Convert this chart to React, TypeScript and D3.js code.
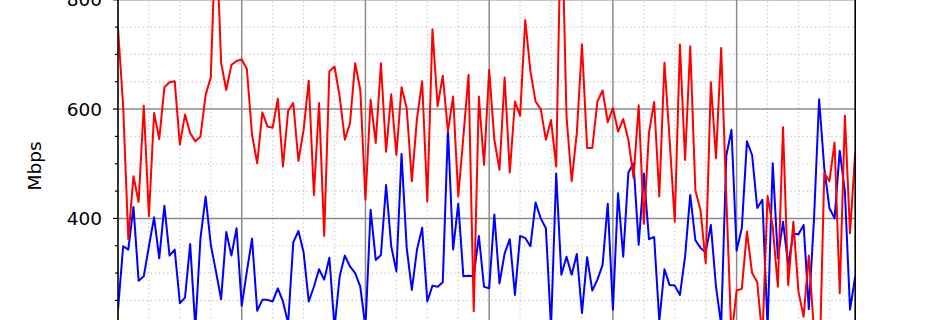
import React from "react";
import * as d3 from "d3";

// Hourly samples (index = hour), Mbps
const redSeries: number[] = [
  748, 605, 362, 477, 430, 606, 404, 593, 545, 640,
  649, 651, 535, 590, 556, 541, 550, 626, 658, 940,
  685, 635, 681, 688, 691, 673, 553, 501, 594, 568,
  566, 619, 495, 597, 611, 505, 562, 652, 443, 611,
  368, 669, 678, 623, 544, 574, 684, 635, 434, 617,
  538, 684, 522, 627, 516, 640, 602, 468, 583, 651,
  431, 746, 605, 661, 559, 623, 440, 550, 663, 230,
  623, 498, 672, 544, 489, 658, 484, 614, 588, 763,
  669, 614, 600, 544, 580, 495, 990, 587, 468, 556,
  718, 529, 529, 614, 634, 576, 602, 559, 582, 544,
  474, 607, 390, 557, 613, 440, 685, 544, 394, 718,
  507, 715, 451, 415, 318, 649, 510, 712, 438, 182,
  268, 271, 376, 300, 283, 180, 441, 385, 275, 567,
  278, 394, 266, 220, 332, 195, 100, 483, 468, 539,
  263, 588, 373, 521,
];

const blueSeries: number[] = [
  233, 349, 343, 421, 286, 294, 349, 402, 327, 423,
  332, 343, 245, 255, 353, 200, 364, 440, 352, 303,
  252, 375, 332, 382, 240, 303, 363, 231, 251, 251,
  248, 272, 248, 208, 356, 377, 338, 248, 275, 307,
  288, 328, 200, 294, 332, 312, 300, 275, 200, 416,
  324, 333, 461, 349, 303, 518, 346, 269, 343, 383,
  248, 277, 275, 283, 563, 343, 427, 294, 295, 294,
  368, 275, 272, 407, 281, 336, 362, 260, 368, 364,
  349, 429, 400, 382, 200, 482, 297, 330, 297, 335,
  227, 329, 268, 288, 315, 427, 233, 446, 330, 484,
  501, 352, 482, 362, 366, 212, 307, 278, 277, 260,
  330, 443, 360, 346, 338, 388, 275, 205, 515, 562,
  341, 382, 541, 516, 419, 434, 200, 501, 327, 394,
  315, 372, 371, 388, 234, 397, 618, 492, 419, 400,
  524, 449, 233, 294,
];

const yGridValues: number[] = [200, 400, 600, 800, 1000];
const yTickLabels: number[] = [400, 600, 800];
const yLabel = "Mbps";

const W = 950;
const H = 320;

export default function App() {
  const n = redSeries.length;
  const x = d3.scaleLinear().domain([0, n - 1]).range([118, 855.2]);
  const y = d3.scaleLinear().domain([0, 1000]).range([437.0, -109.5]);

  const x0 = x.range()[0];
  const x1 = x.range()[1];
  const yTop = y(1000);
  const yBot = y(0);

  const majorX = d3.range(0, n, 24).filter((v) => v > 0);
  const minorX = d3.range(0, n, 6).filter((v) => v % 24 !== 0);
  const majorY = yGridValues;
  const minorY = d3.range(0, 1001, 50).filter((v) => v % 200 !== 0);

  const line = d3
    .line<number>()
    .x((_, i) => x(i))
    .y((d) => y(d));

  const font = "'DejaVu Sans', sans-serif";

  return (
    <svg
      width={W}
      height={H}
      style={{ position: "absolute", left: 0, top: 0, background: "#fff" }}
    >
      <defs>
        <clipPath id="plot">
          <rect x={x0} y={yTop} width={x1 - x0} height={yBot - yTop} />
        </clipPath>
      </defs>
      <rect x={0} y={0} width={W} height={H} fill="#fff" />
      {/* minor grid */}
      <g stroke="#c4c4c4" strokeWidth={1.2} strokeDasharray="1.2,2.9">
        {minorX.map((v) => (
          <line key={"mx" + v} x1={x(v)} x2={x(v)} y1={yTop} y2={yBot} />
        ))}
        {minorY.map((v) => (
          <line key={"my" + v} x1={x0} x2={x1} y1={y(v)} y2={y(v)} />
        ))}
      </g>
      {/* major grid */}
      <g stroke="#8c8c8c" strokeWidth={1.5}>
        {majorX.map((v) => (
          <line key={"Mx" + v} x1={x(v)} x2={x(v)} y1={yTop} y2={yBot} />
        ))}
        {majorY.map((v) => (
          <line key={"My" + v} x1={x0} x2={x1} y1={y(v)} y2={y(v)} />
        ))}
      </g>
      {/* series */}
      <g clipPath="url(#plot)" fill="none" strokeWidth={2} strokeLinejoin="round">
        <path d={line(blueSeries) || ""} stroke="#0000ff" />
        <path d={line(redSeries) || ""} stroke="#ff0000" />
      </g>
      {/* spines */}
      <line x1={x0} x2={x0} y1={yTop} y2={yBot} stroke="#000" strokeWidth={1.6} />
      <line x1={x1} x2={x1} y1={yTop} y2={yBot} stroke="#000" strokeWidth={1.6} />
      {/* ticks */}
      <g stroke="#000" strokeWidth={1.2}>
        {majorY.map((v) => (
          <line key={"tM" + v} x1={x0 - 5} x2={x0} y1={y(v)} y2={y(v)} />
        ))}
        {minorY.map((v) => (
          <line key={"tm" + v} x1={x0 - 3} x2={x0} y1={y(v)} y2={y(v)} />
        ))}
      </g>
      <g fontFamily={font} fontSize={18.5} fill="#000" textAnchor="end">
        {yTickLabels.map((v) => (
          <text key={"l" + v} x={102} y={y(v)} dy="0.36em">
            {v}
          </text>
        ))}
      </g>
      <text
        transform={`translate(41,166) rotate(-90)`}
        textAnchor="middle"
        fontFamily={font}
        fontSize={18.5}
        fill="#000"
      >
        {yLabel}
      </text>
    </svg>
  );
}
